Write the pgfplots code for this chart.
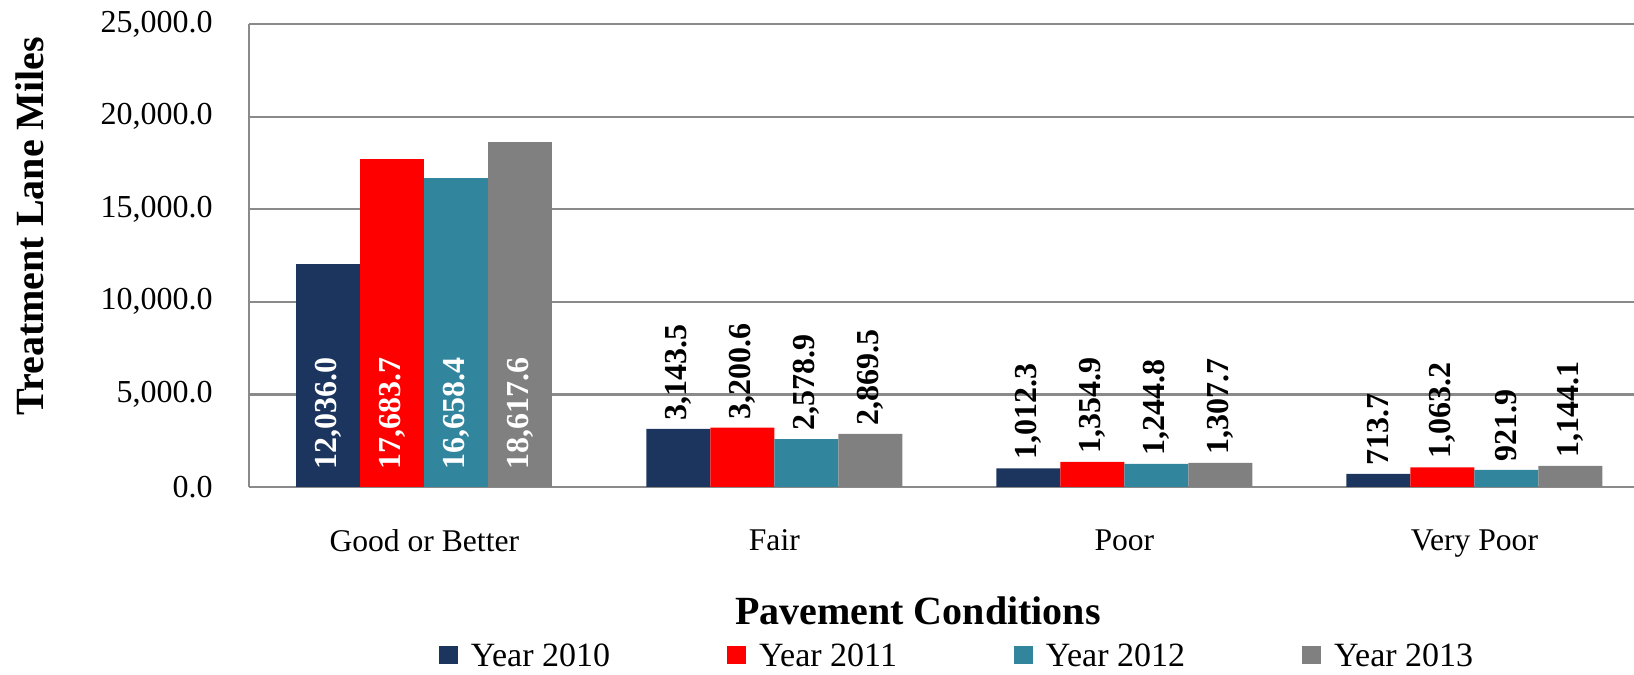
\documentclass[border=0pt]{standalone}
\usepackage{fontspec}
\setmainfont{Liberation Serif}
\usepackage{pgfplots}
\pgfplotsset{compat=1.18}
\definecolor{cA}{HTML}{1C355E}
\definecolor{cB}{HTML}{FF0000}
\definecolor{cC}{HTML}{31859C}
\definecolor{cD}{HTML}{808080}
\definecolor{gridc}{HTML}{8A8A8A}
\begin{document}
\begin{tikzpicture}
\path[use as bounding box] (0,0) rectangle (817bp,337.5bp);
\begin{axis}[
  at={(124.5bp,94bp)}, anchor=south west,
  scale only axis, width=692.5bp, height=231.5bp,
  xmin=-0.501, xmax=3.456, ymin=0, ymax=25000,
  ybar=0pt, bar width=32bp,
  axis x line*=bottom, axis y line*=left,
  axis line style={draw=gridc, line width=1.1bp, -},
  ymajorgrids, grid style={draw=gridc, line width=1.1bp},
  xtick={0,1,2,3}, xticklabels={Good or Better, Fair, Poor, Very Poor},
  ytick={0,5000,10000,15000,20000,25000},
  scaled y ticks=false,
  tick style={draw=none},
  /pgf/number format/.cd, fixed, fixed zerofill, precision=1, 1000 sep={,}, assume math mode=true, /pgfplots/.cd,
  yticklabel style={font=\fontsize{16bp}{16bp}\selectfont, anchor=east, inner sep=0pt, xshift=-18bp},
  xticklabel style={font=\fontsize{15.8bp}{15.8bp}\selectfont, anchor=north, inner sep=0pt, yshift=-17bp},
  xlabel={Pavement Conditions},
  xlabel style={at={(axis description cs:0.483,-0.298)}, anchor=base, font=\bfseries\fontsize{20bp}{20bp}\selectfont, inner sep=0pt},
  ylabel={Treatment Lane Miles},
  ylabel style={at={(axis description cs:-0.1581,0.5637)}, anchor=center, font=\bfseries\fontsize{20bp}{20bp}\selectfont, inner sep=0pt},
  legend columns=4,
  legend style={at={(axis description cs:0.512,-0.367)}, anchor=center, draw=none, fill=none,
    font=\fontsize{17bp}{17bp}\selectfont, inner sep=0pt,
    /tikz/every even column/.append style={column sep=56.5bp},
    /tikz/every odd column/.append style={column sep=4.5bp}},
  legend image code/.code={\fill[#1] (0bp,-3.5bp) rectangle (9.5bp,5.5bp);},
  visualization depends on={y \as \rawy},
  inlab/.style={nodes near coords, nodes near coords style={text=white, font=\bfseries\fontsize{16bp}{16bp}\selectfont, inner sep=0pt, shift={(axis direction cs:0,-\rawy)}, yshift=8.5bp, rotate=90, anchor=west}},
  outlab/.style={nodes near coords, nodes near coords style={text=black, font=\bfseries\fontsize{16bp}{16bp}\selectfont, inner sep=0pt, yshift=4bp, rotate=90, anchor=west}},
]
% Good or Better (labels inside base)
\addplot[fill=cA, draw=none, bar shift=-48bp, inlab] coordinates {(0,12036.0)};
\addlegendentry{Year 2010}
\addplot[fill=cB, draw=none, bar shift=-16bp, inlab] coordinates {(0,17683.7)};
\addlegendentry{Year 2011}
\addplot[fill=cC, draw=none, bar shift=16bp, inlab] coordinates {(0,16658.4)};
\addlegendentry{Year 2012}
\addplot[fill=cD, draw=none, bar shift=48bp, inlab] coordinates {(0,18617.6)};
\addlegendentry{Year 2013}
% Fair, Poor, Very Poor (labels outside end)
\addplot[fill=cA, draw=none, bar shift=-48bp, outlab, forget plot] coordinates {(1,3143.5) (2,1012.3) (3,713.7)};
\addplot[fill=cB, draw=none, bar shift=-16bp, outlab, forget plot] coordinates {(1,3200.6) (2,1354.9) (3,1063.2)};
\addplot[fill=cC, draw=none, bar shift=16bp, outlab, forget plot] coordinates {(1,2578.9) (2,1244.8) (3,921.9)};
\addplot[fill=cD, draw=none, bar shift=48bp, outlab, forget plot] coordinates {(1,2869.5) (2,1307.7) (3,1144.1)};
\end{axis}
\end{tikzpicture}
\end{document}
